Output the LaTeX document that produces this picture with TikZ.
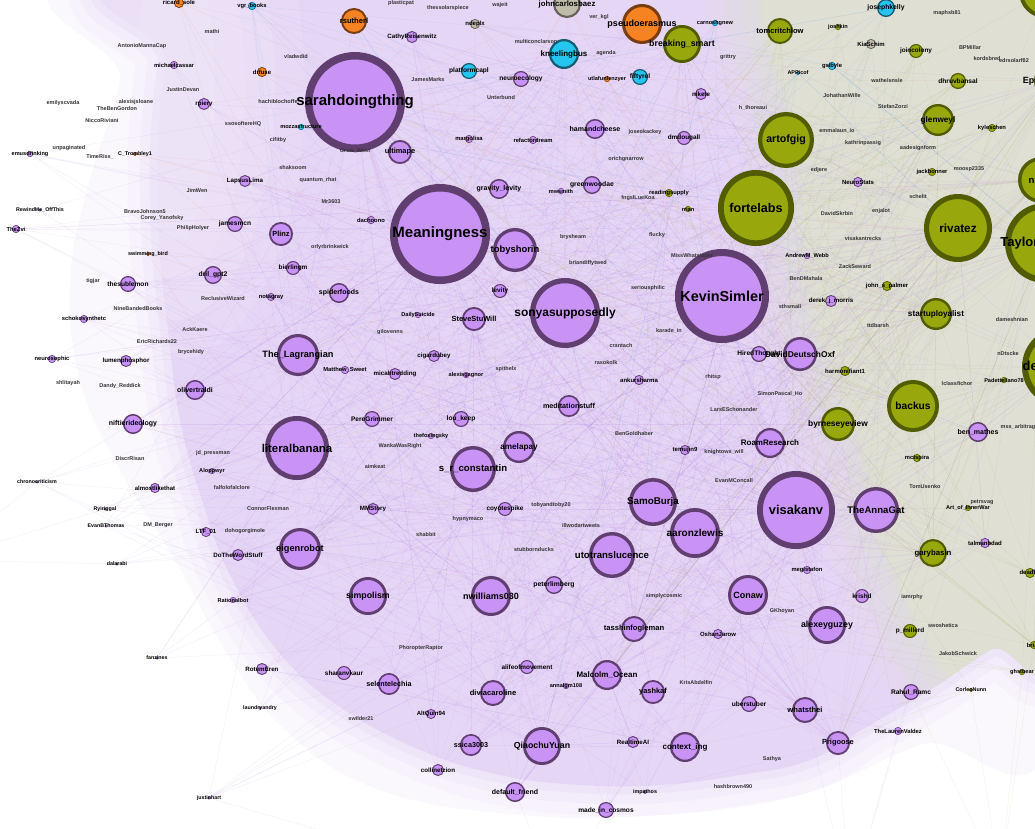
\documentclass[tikz,border=0pt]{standalone}
\usepackage{fontspec}
\setmainfont{Liberation Sans}
\pgfdeclarelayer{back}\pgfdeclarelayer{edges}
\pgfsetlayers{back,edges,main}
\definecolor{pF}{RGB}{201,146,245}
\definecolor{pL}{RGB}{96,62,112}
\definecolor{vF}{RGB}{152,168,12}
\definecolor{vL}{RGB}{82,92,0}
\definecolor{oF}{RGB}{246,130,34}
\definecolor{oL}{RGB}{120,62,16}
\definecolor{cF}{RGB}{36,198,240}
\definecolor{cL}{RGB}{22,92,112}
\definecolor{gF}{RGB}{192,188,172}
\definecolor{gL}{RGB}{100,98,88}
\definecolor{hP}{RGB}{230,214,246}
\definecolor{hG}{RGB}{223,223,212}
\definecolor{eP}{RGB}{170,110,228}
\definecolor{eV}{RGB}{150,160,40}
\definecolor{eC}{RGB}{70,150,230}
\definecolor{eO}{RGB}{230,120,70}
\definecolor{eG}{RGB}{140,130,120}
\tikzset{
 nP/.style={circle,draw=pL,fill=pF,inner sep=0},
 nV/.style={circle,draw=vL,fill=vF,inner sep=0},
 nO/.style={circle,draw=oL,fill=oF,inner sep=0},
 nC/.style={circle,draw=cL,fill=cF,inner sep=0},
 nG/.style={circle,draw=gL,fill=gF,inner sep=0},
 lbl/.style={inner sep=0,text=black},
 tlbl/.style={inner sep=0,text=black!80,font=\fontsize{5.5}{5.5}\selectfont\bfseries},
 edge/.style={line width=0.28pt,opacity=0.15},
}
\makeatletter
\newcommand\alllabels{}
\newcommand\gnode[6]{%
 \pgfmathsetmacro\glw{max(0.5,0.15*#4)}%
 \pgfmathsetmacro\gms{2*#4-\glw}%
 \node[#5,minimum size=\gms pt,line width=\glw pt] (#1) at (#2,#3) {};%
 \g@addto@macro\alllabels{\glabel{#1}{#2}{#3}{#4}{#6}}%
}
\makeatother
\newcommand\glabel[5]{\pgfmathsetmacro\gfs{5+0.2*#4}%
 \node[lbl,font=\fontsize{\gfs}{\gfs}\selectfont\bfseries] (#1-l) at (#2,#3) {#5};}
\newcount\tlabc
\newcommand\tlab[3]{\global\advance\tlabc by 1
 \node[tlbl] (lab\the\tlabc) at (#1,#2) {#3};}
\newcommand\densepath{plot[smooth cycle,tension=0.7] coordinates {(178,-30) (166,60) (158,150) (160,250) (168,330) (180,420) (202,500) (230,575) (277,650) (337,705) (420,750) (500,775) (580,785) (660,785) (740,775) (810,760) (870,725) (930,690) (990,650) (1065,610) (1065,-30)}}
\newcommand\outerpath{plot[smooth cycle,tension=0.7] coordinates {(130,-30) (120,80) (90,180) (70,280) (80,380) (120,470) (175,560) (225,650) (285,730) (380,790) (520,815) (660,815) (800,795) (920,745) (1065,700) (1065,-30)}}
\newcommand\greenpath{plot[smooth cycle,tension=0.6] coordinates {(780,-40) (1100,-40) (1100,720) (970,700) (890,560) (860,440) (810,300) (800,150)}}
\begin{document}
\begin{tikzpicture}[x=1pt,y=-1pt]
\useasboundingbox (0,0) rectangle (1035,828);
\begin{pgfonlayer}{back}
\fill[white] (0,0) rectangle (1035,828);
\fill[hP,opacity=.15] \outerpath;
\draw[hP,line width=60pt,opacity=.15] \densepath;
\draw[hP,line width=36pt,opacity=.2] \densepath;
\draw[hP,line width=16pt,opacity=.3] \densepath;
\begin{scope}
\clip \densepath;
\fill[hP] (-10,-40) rectangle (1100,900);
\draw[hG,line width=110pt,opacity=.2] \greenpath;
\draw[hG,line width=75pt,opacity=.25] \greenpath;
\draw[hG,line width=40pt,opacity=.35] \greenpath;
\draw[hG,line width=12pt,opacity=.5] \greenpath;
\fill[hG] \greenpath;
\foreach \rx/\ry in {40/150,70/190,100/230,130/270}{\fill[white,opacity=.1] (175,90) ellipse[x radius=\rx,y radius=\ry];}
\end{scope}
\end{pgfonlayer}
% ---------------- purple nodes
\gnode{sarah}{355}{102}{50}{nP}{sarahdoingthing}
\gnode{mean}{440}{234}{50}{nP}{Meaningness}
\gnode{kevin}{722}{296}{47}{nP}{KevinSimler}
\gnode{sonya}{565}{313}{35}{nP}{sonyasupposedly}
\gnode{visa}{796}{510}{39}{nP}{visakanv}
\gnode{litb}{297}{448}{32}{nP}{literalbanana}
\gnode{toby}{515}{250}{22}{nP}{tobyshorin}
\gnode{lagr}{298}{355}{21}{nP}{The\_Lagrangian}
\gnode{srcon}{473}{469}{23}{nP}{s\_r\_constantin}
\gnode{amel}{519}{447}{16}{nP}{amelapay}
\gnode{eigen}{300}{549}{21}{nP}{eigenrobot}
\gnode{simp}{368}{596}{19}{nP}{simpolism}
\gnode{nwil}{491}{596}{20}{nP}{nwilliams030}
\gnode{utot}{612}{555}{23}{nP}{utotranslucence}
\gnode{samo}{653}{502}{24}{nP}{SamoBurja}
\gnode{aaron}{695}{533}{25}{nP}{aaronzlewis}
\gnode{conaw}{748}{595}{20}{nP}{Conaw}
\gnode{tassh}{634}{629}{13}{nP}{tasshinfogleman}
\gnode{malc}{607}{675}{15}{nP}{Malcolm\_Ocean}
\gnode{yash}{653}{692}{12}{nP}{yashkaf}
\gnode{qiao}{542}{746}{19}{nP}{QiaochuYuan}
\gnode{ctx}{685}{747}{15}{nP}{context\_ing}
\gnode{rtai}{633}{742}{6}{nP}{RealtimeAI}
\gnode{mic}{606}{810}{8}{nP}{made\_in\_cosmos}
\gnode{divia}{493}{693}{13}{nP}{diviacaroline}
\gnode{ssica}{471}{745}{11}{nP}{ssica3003}
\gnode{selen}{389}{684}{11}{nP}{selentelechia}
\gnode{shar}{344}{673}{7}{nP}{sharanvkaur}
\gnode{altq}{431}{714}{5}{nP}{AltQuin94}
\gnode{coll}{438}{770}{6}{nP}{collinetzion}
\gnode{deff}{515}{792}{10}{nP}{default\_friend}
\gnode{rotem}{262}{669}{6}{nP}{RotemEren}
\gnode{what}{805}{710}{13}{nP}{whatsthei}
\gnode{prig}{838}{743}{12}{nP}{Prigoose}
\gnode{rahul}{911}{692}{8}{nP}{Rahul\_Ramc}
\gnode{tlv}{898}{731}{4}{nP}{TheLaurenValdez}
\gnode{alexg}{827}{625}{19}{nP}{alexeyguzey}
\gnode{krish}{862}{596}{7}{nP}{krishd}
\gnode{anna}{876}{510}{23}{nP}{TheAnnaGat}
\gnode{benm}{978}{432}{10}{nP}{ben\_mathes}
\gnode{roam}{770}{443}{15}{nP}{RoamResearch}
\gnode{hired}{759}{354}{8}{nP}{HiredThought}
\gnode{ddo}{800}{354}{17}{nP}{DavidDeutschOxf}
\gnode{medi}{569}{406}{11}{nP}{meditationstuff}
\gnode{ankur}{639}{380}{5}{nP}{ankursharma}
\gnode{temu}{685}{450}{5}{nP}{temujin9}
\gnode{steve}{474}{319}{12}{nP}{SteveStuWill}
\gnode{levity}{500}{291}{7}{nP}{levity}
\gnode{spid}{339}{293}{10}{nP}{spiderfoods}
\gnode{cigar}{434}{356}{6}{nP}{cigardubey}
\gnode{micah}{395}{374}{6}{nP}{micahtredding}
\gnode{mswe}{345}{370}{4}{nP}{Matthew\_Sweet}
\gnode{pere}{372}{419}{8}{nP}{PereGrimmer}
\gnode{lou}{461}{419}{8}{nP}{lou\_keep}
\gnode{mmst}{373}{509}{6}{nP}{MMStory}
\gnode{coyo}{505}{509}{7}{nP}{coyotespike}
\gnode{agag}{466}{375}{3}{nP}{alexisgagnor}
\gnode{plinz}{281}{234}{12}{nP}{Plinz}
\gnode{bier}{293}{268}{7}{nP}{bierlingm}
\gnode{jmcn}{235}{224}{8}{nP}{jamesmcn}
\gnode{lapsus}{245}{181}{6}{nP}{LapsusLima}
\gnode{dril}{213}{275}{9}{nP}{dril\_gpt2}
\gnode{thesub}{128}{284}{8}{nP}{thesublemon}
\gnode{schok}{84}{319}{4}{nP}{schokosynthetc}
\gnode{neuro}{52}{359}{4}{nP}{neurosophic}
\gnode{lumen}{126}{361}{6}{nP}{lumenphosphor}
\gnode{oliv}{195}{390}{10}{nP}{olivertraldi}
\gnode{nift}{133}{424}{10}{nP}{niftierideology}
\gnode{almo}{155}{488}{5}{nP}{almostlikethat}
\gnode{alop}{212}{471}{3}{nP}{Aloppwyr}
\gnode{ltf}{206}{532}{5}{nP}{LTF\_01}
\gnode{dtws}{238}{555}{6}{nP}{DoTheWordStuff}
\gnode{ratb}{233}{600}{3}{nP}{Rationalbot}
\gnode{emus}{30}{154}{3}{nP}{emusdrinking}
\gnode{zvi}{16}{229}{4}{nP}{TheZvi}
\gnode{mcas}{174}{65}{4}{nP}{michaelcassar}
\gnode{rpie}{204}{104}{6}{nP}{rpiery}
\gnode{ultim}{400}{152}{12}{nP}{ultimape}
\gnode{cathy}{412}{37}{6}{nP}{CathyReisenwitz}
\gnode{neuec}{521}{79}{8}{nP}{neuroecology}
\gnode{hamc}{595}{129}{10}{nP}{hamandcheese}
\gnode{dmdo}{684}{138}{7}{nP}{dmdougall}
\gnode{green}{592}{185}{9}{nP}{greenwoodae}
\gnode{mwsm}{561}{191}{3}{nP}{mwsmith}
\gnode{nikete}{701}{94}{6}{nP}{nikete}
\gnode{refac}{533}{140}{4}{nP}{refactordream}
\gnode{margo}{469}{139}{4}{nP}{margolisa}
\gnode{grav}{499}{189}{10}{nP}{gravity\_levity}
\gnode{nstat}{858}{182}{5}{nP}{NeuroStats}
\gnode{derek}{831}{301}{6}{nP}{derek\_j\_morris}
\gnode{talm}{985}{543}{5}{nP}{talmanbdad}
\gnode{awebb}{807}{256}{3}{nP}{AndrewM\_Webb}
\gnode{megi}{807}{570}{4}{nP}{megistafon}
\gnode{oshan}{718}{634}{5}{nP}{OshanJarow}
\gnode{uber}{749}{704}{8}{nP}{uberstuber}
\gnode{peter}{554}{585}{9}{nP}{peterlimberg}
\gnode{alife}{527}{667}{7}{nP}{alifeofmovement}
\gnode{annal}{566}{686}{3}{nP}{annalgm108}
\gnode{impa}{645}{792}{2}{nP}{impathos}
\gnode{notag}{271}{297}{4}{nP}{notagray}
\gnode{dsui}{418}{315}{3}{nP}{DailySuicide}
\gnode{tfox}{431}{436}{3}{nP}{thefoxingsky}
\gnode{dach}{371}{220}{4}{nP}{dachoono}
\gnode{justin}{209}{798}{1.5}{nP}{justinhart}
\gnode{fanz}{157}{658}{1.5}{nP}{fanzines}
\gnode{dalar}{117}{564}{1.5}{nP}{dalarabi}
\gnode{chron}{37}{482}{1.5}{nP}{chronocriticism}
\gnode{laund}{260}{708}{1.5}{nP}{laundryandry}
\gnode{ryir}{105}{509}{1.5}{nP}{Ryiriggal}
\gnode{evant}{106}{526}{1.5}{nP}{EvanBThomas}
\gnode{rewind}{40}{210}{1.5}{nP}{RewindMe\_OffThis}
% ---------------- cyan nodes
\gnode{kneel}{564}{54}{15}{nC}{kneelingbus}
\gnode{fifty}{640}{77}{8}{nC}{fiftyrel}
\gnode{platf}{469}{71}{8}{nC}{platformcapl}
\gnode{jkel}{886}{8}{9}{nC}{josephkelly}
\gnode{gsib}{832}{66}{4}{nC}{gsibyle}
\gnode{apri}{798}{73}{2}{nC}{APRicof}
\gnode{vgr}{252}{6}{4}{nC}{vgr\_books}
\gnode{mozz}{301}{127}{3}{nC}{mozzastructure}
\gnode{carn}{715}{23}{3}{nC}{carnoshgnew}
% ---------------- orange nodes
\gnode{rsut}{354}{21}{13}{nO}{rsutherl}
\gnode{pseu}{642}{24}{20}{nO}{pseudoerasmus}
\gnode{drfuse}{262}{72}{5}{nO}{drfuse}
\gnode{ricard}{179}{3}{5}{nO}{ricard\_sole}
\gnode{utla}{607}{79}{3}{nO}{utlafunlenzyer}
\gnode{swim}{148}{254}{2}{nO}{swimming\_bird}
\gnode{ctrom}{135}{154}{2}{nO}{C\_Trombley1}
% ---------------- grey nodes
\gnode{jcb}{567}{4}{14}{nG}{johncarlosbaez}
\gnode{kias}{871}{44}{5}{nG}{KiaSchim}
\gnode{ndep}{475}{24}{5}{nG}{ndeplx}
% ---------------- green nodes
\gnode{brsm}{682}{44}{19}{nV}{breaking\_smart}
\gnode{tomc}{780}{31}{13}{nV}{tomcritchlow}
\gnode{artof}{786}{140}{28}{nV}{artofgig}
\gnode{forte}{756}{208}{38}{nV}{fortelabs}
\gnode{riva}{958}{228}{34}{nV}{rivatez}
\gnode{taylor}{1045}{243}{40}{nV}{TaylorPearson}
\gnode{na}{1041}{180}{23}{nV}{naval}
\gnode{de}{1062}{367}{40}{nV}{devonzuegel}
\gnode{ep}{1054}{81}{20}{nV}{EpsilonTheory}
\gnode{econ}{1045}{-8}{26}{nV}{EconTalker}
\gnode{glen}{938}{120}{16}{nV}{glenweyl}
\gnode{dhru}{958}{81}{8}{nV}{dhruvbansal}
\gnode{joinc}{916}{51}{7}{nV}{joincolony}
\gnode{kyle}{992}{128}{4}{nV}{kyleschen}
\gnode{stly}{936}{314}{16}{nV}{startuployalist}
\gnode{backus}{913}{406}{26}{nV}{backus}
\gnode{byrn}{838}{424}{17}{nV}{byrneseyeview}
\gnode{gary}{933}{553}{14}{nV}{garybasin}
\gnode{pmil}{910}{631}{7}{nV}{p\_millerd}
\gnode{jsp}{887}{286}{5}{nV}{john\_s\_palmer}
\gnode{harm}{845}{371}{5}{nV}{harmonifiant1}
\gnode{dead}{1030}{573}{5}{nV}{deadhy}
\gnode{brian}{1034}{645}{4}{nV}{brian}
\gnode{ghost}{1022}{672}{3}{nV}{ghstbear}
\gnode{readsup}{669}{193}{4}{nV}{readingsupply}
\gnode{rrian}{688}{209}{3}{nV}{rrian}
\gnode{joshk}{838}{27}{3}{nV}{joshkin}
\gnode{jackb}{932}{172}{4}{nV}{jackbonner}
\gnode{aoiw}{968}{508}{3}{nV}{Art\_of\_InnerWar}
\gnode{mcta}{917}{458}{4}{nV}{mctspira}
\gnode{pade}{1004}{380}{3}{nV}{Padettellano78}
\gnode{corleo}{971}{690}{2}{nV}{CorleoNunn}
% ---------------- text-only labels
\tlab{212}{32}{mathi}
\tlab{142}{46}{AntonioMannaCap}
\tlab{183}{90}{JustinDevan}
\tlab{63}{103}{emilyscvada}
\tlab{136}{102}{alexisjsloane}
\tlab{117}{109}{TheBenGordon}
\tlab{102}{121}{NiccoRiviani}
\tlab{243}{124}{ssosoftereHQ}
\tlab{69}{148}{unpaginated}
\tlab{100}{157}{TimeRiss\_}
\tlab{197}{191}{JimWen}
\tlab{145}{212}{BravoJohnson5}
\tlab{162}{218}{Corey\_Yanofsky}
\tlab{193}{228}{PhilipHolyer}
\tlab{93}{281}{tigjar}
\tlab{223}{299}{ReclusiveWizard}
\tlab{138}{309}{NineBandedBooks}
\tlab{195}{330}{AckKaere}
\tlab{157}{342}{EricRichards22}
\tlab{191}{352}{brycehidy}
\tlab{68}{383}{shlitayah}
\tlab{120}{386}{Dandy\_Reddick}
\tlab{213}{453}{jd\_pressman}
\tlab{130}{459}{DiscrRisan}
\tlab{232}{488}{falfolofalclore}
\tlab{158}{525}{DM\_Berger}
\tlab{245}{531}{dohogorgimole}
\tlab{401}{3}{plasticpat}
\tlab{448}{8}{thessolarspiece}
\tlab{500}{5}{wajeit}
\tlab{296}{57}{vladwdid}
\tlab{428}{80}{JamesMarks}
\tlab{501}{98}{Unterbund}
\tlab{278}{102}{hachiblochoffe}
\tlab{278}{140}{cifitby}
\tlab{355}{151}{Grow\_West}
\tlab{293}{168}{shaksoom}
\tlab{318}{180}{quantum\_rhat}
\tlab{331}{202}{Mr3603}
\tlab{330}{247}{orlyrbrinkwick}
\tlab{599}{17}{ver\_kgl}
\tlab{536}{42}{multiconclarson}
\tlab{606}{53}{agenda}
\tlab{728}{57}{grittry}
\tlab{753}{108}{h\_thoreaui}
\tlab{645}{132}{joseokackey}
\tlab{626}{159}{orichgnarrow}
\tlab{638}{198}{fngslLueKoa}
\tlab{573}{237}{brysheam}
\tlab{657}{235}{flucky}
\tlab{692}{256}{MissWhatsisper}
\tlab{588}{263}{briandiffytwed}
\tlab{947}{13}{maphsb81}
\tlab{970}{48}{BPMillar}
\tlab{987}{59}{kordsbred}
\tlab{1014}{61}{edrsolarf82}
\tlab{887}{81}{wathelsnsle}
\tlab{842}{96}{JohathanWille}
\tlab{893}{107}{StefanZorzi}
\tlab{837}{131}{emmalaun\_io}
\tlab{863}{143}{kathrinpassig}
\tlab{918}{148}{aadesignform}
\tlab{819}{170}{edjere}
\tlab{969}{169}{moosp2335}
\tlab{918}{197}{schelit}
\tlab{837}{214}{DavidSkrbin}
\tlab{881}{211}{enjalot}
\tlab{863}{239}{visakantrecks}
\tlab{855}{267}{ZackSeward}
\tlab{390}{332}{gilovenns}
\tlab{506}{369}{spithelx}
\tlab{400}{446}{WankaWasRight}
\tlab{375}{467}{aimkeat}
\tlab{468}{519}{hypnymaco}
\tlab{426}{535}{shabbit}
\tlab{268}{509}{ConnorFlexman}
\tlab{534}{550}{stubbornducks}
\tlab{648}{288}{seriousphilic}
\tlab{669}{331}{karade\_in}
\tlab{621}{346}{crantach}
\tlab{606}{363}{rasokolk}
\tlab{713}{377}{rhitsp}
\tlab{780}{394}{SimonPascal\_Ho}
\tlab{734}{410}{LarsESchonander}
\tlab{634}{434}{BenGoldhaber}
\tlab{724}{452}{knightows\_will}
\tlab{734}{481}{EvanMConcall}
\tlab{551}{505}{tobyandtoby20}
\tlab{581}{526}{illwodartweets}
\tlab{806}{279}{BenDMahala}
\tlab{790}{307}{sthsmall}
\tlab{1012}{320}{dameshnian}
\tlab{878}{326}{ttdbarsh}
\tlab{1008}{354}{nDtscke}
\tlab{957}{384}{lclassfichor}
\tlab{1018}{427}{mss\_arbitrag}
\tlab{925}{487}{TomUsenko}
\tlab{982}{502}{petrsvag}
\tlab{912}{597}{iamrphy}
\tlab{782}{611}{GKhoyan}
\tlab{943}{626}{swoshetica}
\tlab{958}{654}{JakobSchwick}
\tlab{421}{648}{PhoropterRaptor}
\tlab{361}{719}{swilder21}
\tlab{664}{596}{simplycosmic}
\tlab{696}{683}{KrisAbdelfin}
\tlab{733}{787}{hashbrown490}
\tlab{772}{759}{Sathya}
\alllabels
% ---------------- edges
\def\NL{{"sarah","mean","kevin","sonya","visa","litb","toby","lagr","srcon","amel","eigen","simp","nwil","utot","samo","aaron","conaw","tassh","malc","yash","qiao","ctx","rtai","mic","divia","ssica","selen","shar","altq","coll","deff","rotem","what","prig","rahul","tlv","alexg","krish","anna","benm","roam","ddo","hired","medi","ankur","temu","steve","levity","spid","cigar","micah","mswe","pere","lou","mmst","coyo","agag","plinz","bier","jmcn","lapsus","dril","thesub","schok","neuro","lumen","oliv","nift","almo","alop","ltf","dtws","ratb","emus","zvi","mcas","rpie","ultim","cathy","neuec","hamc","dmdo","green","mwsm","nikete","refac","margo","grav","nstat","derek","talm","awebb","megi","oshan","uber","peter","alife","annal","impa","notag","dsui","tfox","dach","justin","fanz","dalar","chron","laund","ryir","evant","rewind","kneel","fifty","platf","jkel","gsib","apri","vgr","mozz","carn","rsut","pseu","drfuse","ricard","utla","swim","ctrom","jcb","kias","ndep","brsm","tomc","artof","forte","riva","taylor","na","de","ep","econ","glen","dhru","joinc","kyle","stly","backus","byrn","gary","pmil","jsp","harm","dead","brian","ghost","readsup","rrian","joshk","jackb","aoiw","mcta","pade","corleo"}}
\def\CL{{"P","P","P","P","P","P","P","P","P","P","P","P","P","P","P","P","P","P","P","P","P","P","P","P","P","P","P","P","P","P","P","P","P","P","P","P","P","P","P","P","P","P","P","P","P","P","P","P","P","P","P","P","P","P","P","P","P","P","P","P","P","P","P","P","P","P","P","P","P","P","P","P","P","P","P","P","P","P","P","P","P","P","P","P","P","P","P","P","P","P","P","P","P","P","P","P","P","P","P","P","P","P","P","P","P","P","P","P","P","P","P","P","C","C","C","C","C","C","C","C","C","O","O","O","O","O","O","O","G","G","G","V","V","V","V","V","V","V","V","V","V","V","V","V","V","V","V","V","V","V","V","V","V","V","V","V","V","V","V","V","V","V","V"}}
\def\HL{{"sarah","sarah","sarah","mean","mean","mean","kevin","kevin","kevin","sonya","sonya","visa","visa","visa","litb","litb","forte","forte","riva","riva","taylor","taylor","de","artof","backus","toby","srcon","samo","aaron","utot","lagr","eigen","simp","nwil","conaw","qiao","alexg","anna","brsm","pseu","kneel","glen","stly","byrn","ddo","roam","amel","malc","ctx","na","ep","gary","divia","what","prig","steve","tassh"}}
\begin{pgfonlayer}{edges}
\pgfmathtruncatemacro\NN{dim(\NL)}
\pgfmathtruncatemacro\NH{dim(\HL)}
\pgfmathsetseed{7}
\foreach \k in {1,...,1000}{%
 \pgfmathtruncatemacro\ia{min(\NN-1,floor(rnd*\NN))}%
 \pgfmathtruncatemacro\ib{min(\NH-1,floor(rnd*\NH))}%
 \pgfmathsetmacro\ea{\NL[\ia]}%
 \pgfmathsetmacro\ca{\CL[\ia]}%
 \pgfmathsetmacro\eb{\HL[\ib]}%
 \ifx\ea\eb\else\draw[edge,draw=e\ca] (\ea) -- (\eb);\fi
}
\coordinate (offA) at (850,900);
\coordinate (offB) at (1000,880);
\coordinate (offC) at (-60,560);
\coordinate (offD) at (560,900);
\foreach \s in {prig,what,tlv,rahul}{\draw[edge,draw=eP] (\s) -- (offA);}
\foreach \s in {rahul,corleo,ghost,brian}{\draw[edge,draw=eV] (\s) -- (offB);}
\foreach \s in {dalar,chron,ryir}{\draw[edge,draw=eP] (\s) -- (offC);}
\foreach \s in {mic,deff,justin}{\draw[edge,draw=eP] (\s) -- (offD);}
\end{pgfonlayer}
\end{tikzpicture}
\end{document}
